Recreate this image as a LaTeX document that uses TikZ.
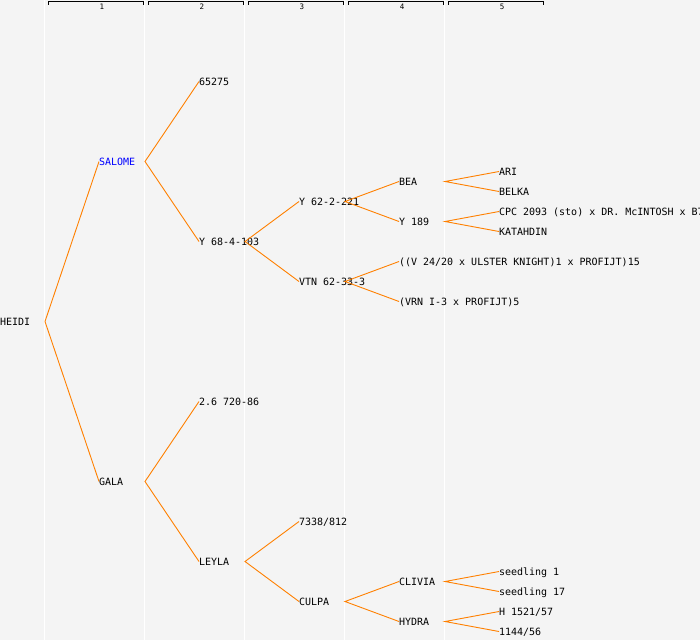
\documentclass[tikz,border=0pt]{standalone}
\usepackage{fontspec}
\setmonofont{DejaVu Sans Mono}
\definecolor{bgc}{RGB}{244,244,244}
\definecolor{edgec}{RGB}{255,128,0}
\definecolor{namec}{RGB}{0,0,255}
\begin{document}
\begin{tikzpicture}[x=1pt,y=-1pt,
  lbl/.style={anchor=west,inner sep=0pt,outer sep=0pt,font=\ttfamily\fontsize{10}{10}\selectfont,text height=8pt,text depth=0pt,text=black},
  edge/.style={draw=edgec,line width=0.9pt},
  colline/.style={draw=white,line width=1.2pt},
  ruler/.style={draw=black,line width=1pt},
  collbl/.style={inner sep=0pt,font=\ttfamily\fontsize{7.5}{7.5}\selectfont}]
\clip (0,0) rectangle (700,640);
\fill[bgc] (0,0) rectangle (700,640);
% column separators
\foreach \x in {44.5,144.5,244.5,344.5,444.5} \draw[colline] (\x,0) -- (\x,640);
% ruler
\foreach \k in {1,...,5} {
  \pgfmathsetmacro{\xa}{48+100*(\k-1)}
  \pgfmathsetmacro{\xb}{143+100*(\k-1)}
  \pgfmathsetmacro{\xc}{102+100*(\k-1)}
  \draw[ruler] (\xa,4.8) -- (\xa,1.5) -- (\xb,1.5) -- (\xb,4.8);
  \node[collbl] (col\k) at (\xc,6.5) {\k};
}
% nodes
\node[lbl] (heidi) at (0,321.5) {HEIDI};
\node[lbl,text=namec] (salome) at (99,161.5) {SALOME};
\node[lbl] (gala) at (99,481.5) {GALA};
\node[lbl] (n65275) at (199,81.5) {65275};
\node[lbl] (y68) at (199,241.5) {Y 68-4-103};
\node[lbl] (n26) at (199,401.5) {2.6 720-86};
\node[lbl] (leyla) at (199,561.5) {LEYLA};
\node[lbl] (y62) at (299,201.5) {Y 62-2-221};
\node[lbl] (vtn) at (299,281.5) {VTN 62-33-3};
\node[lbl] (n7338) at (299,521.5) {7338/812};
\node[lbl] (culpa) at (299,601.5) {CULPA};
\node[lbl] (bea) at (399,181.5) {BEA};
\node[lbl] (y189) at (399,221.5) {Y 189};
\node[lbl] (vul) at (399,261.5) {((V 24/20 x ULSTER KNIGHT)1 x PROFIJT)15};
\node[lbl] (vrn) at (399,301.5) {(VRN I-3 x PROFIJT)5};
\node[lbl] (clivia) at (399,581.5) {CLIVIA};
\node[lbl] (hydra) at (399,621.5) {HYDRA};
\node[lbl] (ari) at (499,171.5) {ARI};
\node[lbl] (belka) at (499,191.5) {BELKA};
\node[lbl] (cpc) at (499,211.5) {CPC 2093 (sto) x DR. McINTOSH x B7};
\node[lbl] (katahdin) at (499,231.5) {KATAHDIN};
\node[lbl] (seed1) at (499,571.5) {seedling 1};
\node[lbl] (seed17) at (499,591.5) {seedling 17};
\node[lbl] (h1521) at (499,611.5) {H 1521/57};
\node[lbl] (n1144) at (499,631.5) {1144/56};
% fork points
\coordinate (heidi-v) at (45,321.5);
\coordinate (salome-v) at (145,161.5);
\coordinate (gala-v) at (145,481.5);
\coordinate (y68-v) at (245,241.5);
\coordinate (leyla-v) at (245,561.5);
\coordinate (y62-v) at (345,201.5);
\coordinate (vtn-v) at (345,281.5);
\coordinate (culpa-v) at (345,601.5);
\coordinate (bea-v) at (445,181.5);
\coordinate (y189-v) at (445,221.5);
\coordinate (clivia-v) at (445,581.5);
\coordinate (hydra-v) at (445,621.5);
% connectors
\draw[edge] (salome.west) -- (heidi-v) -- (gala.west);
\draw[edge] (n65275.west) -- (salome-v) -- (y68.west);
\draw[edge] (n26.west) -- (gala-v) -- (leyla.west);
\draw[edge] (y62.west) -- (y68-v) -- (vtn.west);
\draw[edge] (n7338.west) -- (leyla-v) -- (culpa.west);
\draw[edge] (bea.west) -- (y62-v) -- (y189.west);
\draw[edge] (vul.west) -- (vtn-v) -- (vrn.west);
\draw[edge] (clivia.west) -- (culpa-v) -- (hydra.west);
\draw[edge] (ari.west) -- (bea-v) -- (belka.west);
\draw[edge] (cpc.west) -- (y189-v) -- (katahdin.west);
\draw[edge] (seed1.west) -- (clivia-v) -- (seed17.west);
\draw[edge] (h1521.west) -- (hydra-v) -- (n1144.west);
\end{tikzpicture}
\end{document}
